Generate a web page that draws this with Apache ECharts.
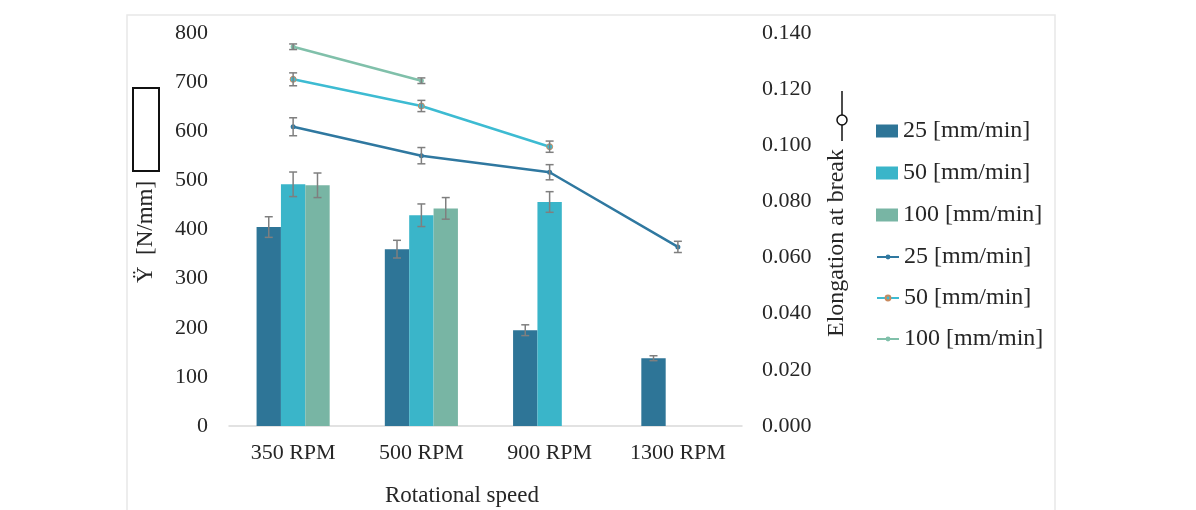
<!DOCTYPE html>
<html>
<head>
<meta charset="utf-8">
<script src="https://cdn.jsdelivr.net/npm/echarts@6/dist/echarts.min.js"></script>
<style>html,body{margin:0;padding:0;background:#fff;}#c{width:1196px;height:510px;}</style>
</head>
<body>
<div id="c"></div>
<script>
const categories = ['350 RPM', '500 RPM', '900 RPM', '1300 RPM'];
const leftTicks = [0, 800, 100];
const rightTicks = [0, 0.14, 0.02];
const stiff25 = [405, 360, 195, 138];
const stiff50 = [492, 429, 456, null];
const stiff100 = [490, 443, null, null];
const stiffErr25 = [21, 18, 11, 5];
const stiffErr50 = [25, 23, 21, null];
const stiffErr100 = [25, 22, null, null];
const elong25 = [0.1066, 0.0963, 0.0904, 0.0638];
const elong50 = [0.1235, 0.1140, 0.0995, null];
const elong100 = [0.1351, 0.1230, null, null];
const elongErr25 = [0.0032, 0.0029, 0.0027, 0.0020];
const elongErr50 = [0.0023, 0.0020, 0.0020, null];
const elongErr100 = [0.0010, 0.0010, null, null];
const seriesNames = ['25 [mm/min]', '50 [mm/min]', '100 [mm/min]'];

const C_DARK = '#2E7597', C_LIGHT = '#3AB5C9', C_GREEN = '#78B5A4';
const L_DARK = '#2F78A0', L_LIGHT = '#3DBBD2', L_GREEN = '#80C0AA';
const GAP = 0.43;
const FONT = 'Liberation Serif';
const TXT = '#262626';

function errData(vals, errs) {
  const out = [];
  vals.forEach((v, i) => { if (v != null && errs[i] != null) out.push([i, v, errs[i]]); });
  return out;
}
function errRender(slot, nSlots) {
  return function (params, api) {
    const x = api.value(0), y = api.value(1), e = api.value(2);
    const band = api.size([1, 0])[0];
    let off = 0;
    if (slot !== null) {
      const bw = band * (1 - GAP) / nSlots;
      off = (slot - (nSlots - 1) / 2) * bw;
    }
    const cx = api.coord([x, y])[0] + off;
    const top = api.coord([x, y + e])[1];
    const bot = api.coord([x, y - e])[1];
    const hw = 4;
    const st = { stroke: '#7F7F7F', lineWidth: 1.5 };
    return {
      type: 'group',
      children: [
        { type: 'line', shape: { x1: cx, y1: top, x2: cx, y2: bot }, style: st },
        { type: 'line', shape: { x1: cx - hw, y1: top, x2: cx + hw, y2: top }, style: st },
        { type: 'line', shape: { x1: cx - hw, y1: bot, x2: cx + hw, y2: bot }, style: st }
      ]
    };
  };
}
function errSeries(name, vals, errs, slot, yIdx) {
  return {
    name: name, type: 'custom', yAxisIndex: yIdx, z: 10,
    renderItem: errRender(slot, 3), data: errData(vals, errs),
    encode: { x: 0, y: 1 }, silent: true
  };
}

const chart = echarts.init(document.getElementById('c'), null, { renderer: 'canvas' });
const lineNames = seriesNames.map(n => n + ' ');
chart.setOption({
  animation: false,
  backgroundColor: '#ffffff',
  grid: { left: 229, right: 454, top: 33, bottom: 84 },
  legend: [
    {
      orient: 'vertical', left: 871, top: 114,
      itemWidth: 22, itemHeight: 13, itemGap: 18, icon: 'rect',
      data: seriesNames,
      textStyle: { fontFamily: FONT, fontSize: 24, color: TXT }
    },
    {
      orient: 'vertical', left: 871, top: 240,
      itemWidth: 22, itemHeight: 6, itemGap: 17,
      data: lineNames,
      textStyle: { fontFamily: FONT, fontSize: 24, color: TXT }
    }
  ],
  xAxis: {
    type: 'category', data: categories,
    axisLine: { lineStyle: { color: '#D9D9D9', width: 1.5 } },
    axisTick: { show: false },
    axisLabel: { fontFamily: FONT, fontSize: 22, color: TXT, margin: 16 }
  },
  yAxis: [
    {
      type: 'value', min: leftTicks[0], max: leftTicks[1], interval: leftTicks[2],
      axisLine: { show: false }, axisTick: { show: false }, splitLine: { show: false },
      axisLabel: { fontFamily: FONT, fontSize: 22, color: TXT, margin: 21 }
    },
    {
      type: 'value', min: rightTicks[0], max: rightTicks[1], interval: rightTicks[2],
      axisLine: { show: false }, axisTick: { show: false }, splitLine: { show: false },
      axisLabel: { fontFamily: FONT, fontSize: 22, color: TXT, margin: 20, formatter: v => v.toFixed(3) }
    }
  ],
  series: [
    { name: seriesNames[0], type: 'bar', data: stiff25, barGap: '0%', barCategoryGap: (GAP * 100) + '%', itemStyle: { color: C_DARK } },
    { name: seriesNames[1], type: 'bar', data: stiff50, barGap: '0%', barCategoryGap: (GAP * 100) + '%', itemStyle: { color: C_LIGHT } },
    { name: seriesNames[2], type: 'bar', data: stiff100, barGap: '0%', barCategoryGap: (GAP * 100) + '%', itemStyle: { color: C_GREEN } },
    errSeries('e1', stiff25, stiffErr25, 0, 0),
    errSeries('e2', stiff50, stiffErr50, 1, 0),
    errSeries('e3', stiff100, stiffErr100, 2, 0),
    { name: lineNames[0], type: 'line', yAxisIndex: 1, data: elong25, symbol: 'circle', symbolSize: 5,
      lineStyle: { color: L_DARK, width: 2.5 }, itemStyle: { color: L_DARK }, z: 5 },
    { name: lineNames[1], type: 'line', yAxisIndex: 1, data: elong50, symbol: 'circle', symbolSize: 6,
      lineStyle: { color: L_LIGHT, width: 2.5 }, itemStyle: { color: L_LIGHT, borderColor: '#C98A5E', borderWidth: 1 }, z: 5 },
    { name: lineNames[2], type: 'line', yAxisIndex: 1, data: elong100, symbol: 'circle', symbolSize: 5,
      lineStyle: { color: L_GREEN, width: 2.5 }, itemStyle: { color: L_GREEN }, z: 5 },
    errSeries('e4', elong25, elongErr25, null, 1),
    errSeries('e5', elong50, elongErr50, null, 1),
    errSeries('e6', elong100, elongErr100, null, 1)
  ],
  graphic: [
    { type: 'rect', shape: { x: 127, y: 15, width: 928, height: 520 }, style: { fill: 'none', stroke: '#E8E8E8', lineWidth: 1.5 }, silent: true, z: -1 },
    { type: 'rect', shape: { x: 133, y: 88, width: 26, height: 83 }, style: { fill: 'none', stroke: '#111', lineWidth: 2 }, silent: true },
    { type: 'text', x: 146, y: 232, rotation: Math.PI / 2,
      style: { text: 'Ÿ  [N/mm]', fontFamily: FONT, fontSize: 23, fill: TXT, align: 'center', verticalAlign: 'middle' } },
    { type: 'text', x: 837, y: 243, rotation: Math.PI / 2,
      style: { text: 'Elongation at break', fontFamily: FONT, fontSize: 24, fill: TXT, align: 'center', verticalAlign: 'middle' } },
    { type: 'line', shape: { x1: 842, y1: 91, x2: 842, y2: 141 }, style: { stroke: '#111', lineWidth: 1.5 } },
    { type: 'circle', shape: { cx: 842, cy: 120, r: 5 }, style: { fill: '#fff', stroke: '#111', lineWidth: 1.5 } },
    { type: 'text', x: 462, y: 496,
      style: { text: 'Rotational speed', fontFamily: FONT, fontSize: 23, fill: TXT, align: 'center', verticalAlign: 'middle' } }
  ]
});
</script>
</body>
</html>
